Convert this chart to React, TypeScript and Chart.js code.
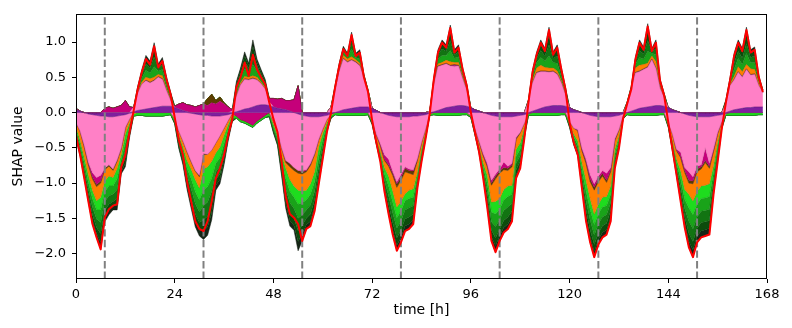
import React, { useEffect, useRef } from "react";
import { Chart, registerables } from "chart.js";

Chart.register(...registerables);

// x positions (hour index) and axis ticks
const hours: number[] = Array.from({ length: 168 }, (_, i) => i);
const xTicks = [0, 24, 48, 72, 96, 120, 144, 168];
const yTicks = [-2.0, -1.5, -1.0, -0.5, 0.0, 0.5, 1.0];
const dayMarkers = [7, 31, 55, 79, 103, 127, 151];

// SHAP contribution of each feature per hour
const purple = [
  0.04, 0.02, 0.00, -0.02, -0.03, -0.04, -0.05, -0.05, -0.06, -0.06, -0.05, -0.04, -0.03, -0.01, 0.01, 0.03, 0.04, 0.05, 0.06, 0.07, 0.08, 0.09, 0.09, 0.09,
  0.07, 0.05, 0.03, 0.01, -0.01, -0.02, -0.03, -0.04, -0.04, -0.05, -0.05, -0.05, -0.04, -0.03, -0.01, 0.01, 0.03, 0.05, 0.06, 0.08, 0.10, 0.11, 0.11, 0.10,
  0.08, 0.06, 0.05, 0.04, 0.02, 0.00, -0.02, -0.04, -0.05, -0.06, -0.06, -0.06, -0.05, -0.04, -0.02, 0.00, 0.02, 0.04, 0.05, 0.06, 0.07, 0.08, 0.08, 0.08,
  0.06, 0.03, 0.00, -0.02, -0.04, -0.05, -0.06, -0.06, -0.06, -0.06, -0.05, -0.05, -0.04, -0.03, -0.01, 0.01, 0.03, 0.05, 0.07, 0.08, 0.09, 0.10, 0.10, 0.09,
  0.07, 0.04, 0.02, 0.00, -0.02, -0.04, -0.05, -0.06, -0.06, -0.06, -0.06, -0.05, -0.04, -0.03, -0.01, 0.02, 0.04, 0.06, 0.08, 0.09, 0.10, 0.10, 0.10, 0.09,
  0.07, 0.04, 0.02, 0.00, -0.02, -0.04, -0.05, -0.06, -0.06, -0.06, -0.06, -0.05, -0.04, -0.02, 0.00, 0.02, 0.04, 0.06, 0.07, 0.08, 0.09, 0.10, 0.10, 0.09,
  0.07, 0.04, 0.02, 0.00, -0.02, -0.04, -0.05, -0.06, -0.06, -0.06, -0.06, -0.05, -0.04, -0.03, -0.01, 0.02, 0.04, 0.05, 0.06, 0.07, 0.07, 0.08, 0.08, 0.08,
];
const pink = [
  -0.14, -0.26, -0.46, -0.68, -0.82, -0.88, -0.84, -0.74, -0.68, -0.74, -0.62, -0.46, -0.18, -0.08, 0.06, 0.24, 0.36, 0.40, 0.36, 0.38, 0.42, 0.38, 0.22, 0.08,
  -0.08, -0.26, -0.40, -0.55, -0.68, -0.80, -0.86, -0.54, -0.55, -0.48, -0.38, -0.28, -0.18, -0.08, 0.02, 0.22, 0.36, 0.42, 0.40, 0.40, 0.36, 0.30, 0.22, 0.05,
  -0.12, -0.26, -0.50, -0.68, -0.72, -0.78, -0.80, -0.78, -0.76, -0.66, -0.52, -0.32, -0.18, -0.06, 0.08, 0.30, 0.56, 0.72, 0.66, 0.68, 0.64, 0.58, 0.40, 0.22,
  -0.10, -0.30, -0.44, -0.58, -0.62, -0.78, -0.92, -0.82, -0.71, -0.74, -0.76, -0.60, -0.38, -0.20, 0.02, 0.38, 0.62, 0.62, 0.62, 0.58, 0.56, 0.56, 0.38, 0.22,
  -0.04, -0.22, -0.40, -0.58, -0.70, -0.92, -0.82, -0.74, -0.64, -0.70, -0.66, -0.30, -0.24, -0.12, 0.16, 0.40, 0.52, 0.52, 0.50, 0.48, 0.48, 0.44, 0.32, 0.16,
  -0.12, -0.22, -0.24, -0.50, -0.64, -0.84, -0.96, -0.84, -0.76, -0.80, -0.72, -0.32, -0.20, -0.02, 0.12, 0.30, 0.52, 0.52, 0.54, 0.56, 0.66, 0.52, 0.24, 0.12,
  -0.14, -0.30, -0.52, -0.56, -0.76, -0.80, -0.86, -0.70, -0.68, -0.44, -0.66, -0.46, -0.24, -0.10, 0.12, 0.36, 0.42, 0.52, 0.44, 0.54, 0.46, 0.46, 0.30, 0.20,
];
const magenta = [
  0.02, 0.00, -0.01, -0.02, -0.06, -0.10, -0.08, 0.06, 0.08, 0.06, 0.08, 0.10, 0.17, 0.08, 0, 0, 0, 0, 0, 0, 0, 0, 0, 0,
  0.02, 0.07, 0.11, 0.10, 0.10, 0.08, 0.10, 0.12, 0.10, 0.14, 0.12, 0.16, 0.12, 0.08, 0.02, -0.05, -0.10, -0.12, -0.15, -0.18, -0.12, -0.08, -0.04, 0.05,
  0.12, 0.13, 0.15, 0.13, 0.15, 0.18, 0.38, -0.02, -0.01, -0.01, 0, 0, 0, 0, 0, 0, 0, 0, 0, 0, 0, 0, 0, 0,
  0, -0.01, -0.02, -0.06, -0.08, -0.03, -0.03, -0.04, -0.02, -0.02, -0.02, -0.01, 0, 0, 0, 0, 0, 0, 0, 0, 0.02, 0, 0, 0,
  0, 0, -0.01, -0.02, -0.03, -0.04, -0.03, -0.03, -0.08, -0.03, -0.02, -0.01, 0, 0, 0, 0, 0, 0, 0, 0, 0, 0, 0, 0,
  0, 0, -0.01, -0.02, -0.03, -0.06, -0.05, -0.04, -0.04, -0.10, -0.03, -0.01, 0, 0, 0, 0, 0, 0, 0, 0, 0, 0, 0, 0,
  0, 0, -0.01, -0.06, -0.04, -0.12, -0.06, -0.04, -0.03, -0.18, -0.04, -0.02, -0.01, 0, 0, 0, 0, 0, 0, 0, 0, 0, 0, 0,
];
const brown = [
  0, -0.01, -0.02, -0.02, -0.03, -0.03, -0.03, -0.02, -0.02, -0.02, -0.02, -0.01, -0.01, 0, 0, 0, 0, 0.01, 0.01, 0.01, 0.01, 0.01, 0, 0,
  0, 0, 0, -0.01, -0.01, -0.01, -0.02, -0.02, 0.10, 0.12, 0.05, 0.06, 0.02, 0, 0, 0, 0, 0.01, 0.01, 0.01, 0.01, 0, 0, 0,
  0, 0, -0.01, -0.03, -0.05, -0.04, -0.04, -0.03, -0.02, -0.02, -0.02, -0.01, 0, 0, 0, 0, 0, 0.01, 0.01, 0.01, 0.01, 0.01, 0, 0,
  0, 0, -0.01, -0.02, -0.02, -0.03, -0.05, -0.04, -0.05, -0.04, -0.05, -0.02, -0.01, 0, 0, 0, 0.01, 0.01, 0.01, 0.01, 0.01, 0.01, 0, 0,
  0, 0, 0, -0.01, -0.02, -0.03, -0.04, -0.03, -0.03, -0.03, -0.03, -0.02, -0.01, 0, 0, 0, 0.01, 0.01, 0.01, 0.01, 0.01, 0.01, 0, 0,
  0, 0, -0.01, -0.02, -0.03, -0.04, -0.04, -0.04, -0.04, -0.03, -0.03, -0.02, -0.01, 0, 0, 0, 0.01, 0.01, 0.01, 0.01, 0.01, 0.01, 0, 0,
  0, 0, -0.01, -0.02, -0.03, -0.04, -0.04, -0.04, -0.03, -0.03, -0.03, -0.02, -0.01, 0, 0, 0, 0.01, 0.01, 0.01, 0.01, 0.01, 0.01, 0, 0,
];
const orange = [
  -0.06, -0.12, -0.14, -0.14, -0.16, -0.20, -0.20, -0.16, -0.14, -0.10, -0.10, -0.08, -0.08, -0.06, -0.02, 0.02, 0.03, 0.04, 0.05, 0.04, 0.03, 0.04, 0.03, 0.02,
  -0.02, -0.06, -0.08, -0.12, -0.10, -0.12, -0.16, -0.20, -0.18, -0.16, -0.14, -0.16, -0.10, -0.06, -0.03, 0.02, 0.03, 0.03, 0.03, 0.03, 0.03, 0.02, 0.02, 0.00,
  -0.04, -0.06, -0.08, -0.08, -0.18, -0.22, -0.24, -0.24, -0.26, -0.26, -0.24, -0.10, -0.06, -0.04, -0.02, 0.02, 0.03, 0.04, 0.04, 0.04, 0.03, 0.03, 0.02, 0.01,
  -0.02, -0.06, -0.08, -0.10, -0.14, -0.22, -0.28, -0.30, -0.31, -0.24, -0.20, -0.16, -0.08, -0.04, -0.02, 0.02, 0.03, 0.03, 0.04, 0.05, 0.03, 0.04, 0.03, 0.02,
  -0.01, -0.04, -0.06, -0.10, -0.12, -0.24, -0.32, -0.36, -0.28, -0.22, -0.26, -0.14, -0.14, -0.06, 0.00, 0.03, 0.06, 0.08, 0.05, 0.05, 0.04, 0.04, 0.03, 0.02,
  -0.03, -0.08, -0.14, -0.16, -0.24, -0.24, -0.34, -0.32, -0.30, -0.20, -0.20, -0.12, -0.08, -0.02, 0.01, 0.02, 0.06, 0.08, 0.06, 0.05, 0.04, 0.09, 0.03, 0.02,
  -0.03, -0.08, -0.12, -0.18, -0.24, -0.16, -0.24, -0.28, -0.24, -0.32, -0.22, -0.20, -0.12, -0.04, 0.01, 0.02, 0.04, 0.07, 0.07, 0.06, 0.08, 0.06, 0.04, 0.02,
];
const greenBright = [
  -0.05, -0.06, -0.08, -0.10, -0.12, -0.13, -0.18, -0.15, -0.14, -0.12, -0.15, -0.07, -0.12, -0.05, -0.03, -0.04, -0.04, -0.05, -0.05, -0.05, -0.05, -0.05, -0.04, -0.03,
  -0.02, -0.05, -0.07, -0.11, -0.14, -0.17, -0.17, -0.30, -0.28, -0.24, -0.15, -0.15, -0.12, -0.06, -0.03, -0.03, -0.03, -0.03, -0.03, -0.03, -0.03, -0.03, -0.03, -0.03,
  -0.04, -0.04, -0.08, -0.15, -0.17, -0.16, -0.20, -0.17, -0.14, -0.15, -0.14, -0.14, -0.09, -0.04, -0.02, -0.03, -0.04, -0.04, -0.04, -0.04, -0.04, -0.04, -0.04, -0.03,
  -0.02, -0.02, -0.04, -0.09, -0.14, -0.16, -0.15, -0.14, -0.10, -0.12, -0.12, -0.06, -0.05, -0.03, -0.01, -0.03, -0.04, -0.04, -0.04, -0.04, -0.04, -0.04, -0.03, -0.03,
  -0.01, -0.02, -0.03, -0.06, -0.12, -0.14, -0.18, -0.15, -0.15, -0.15, -0.13, -0.10, -0.09, -0.04, -0.03, -0.04, -0.04, -0.04, -0.04, -0.04, -0.04, -0.04, -0.03, -0.03,
  -0.02, -0.04, -0.06, -0.10, -0.15, -0.15, -0.15, -0.14, -0.14, -0.13, -0.12, -0.07, -0.05, -0.01, -0.03, -0.04, -0.04, -0.04, -0.04, -0.04, -0.04, -0.04, -0.03, -0.03,
  -0.01, -0.05, -0.06, -0.11, -0.14, -0.19, -0.20, -0.18, -0.18, -0.18, -0.18, -0.10, -0.07, -0.02, -0.03, -0.04, -0.04, -0.04, -0.04, -0.04, -0.04, -0.04, -0.03, -0.03,
];
const greenMid = [
  -0.05, -0.06, -0.08, -0.10, -0.12, -0.13, -0.18, -0.14, -0.14, -0.12, -0.15, -0.07, -0.12, -0.05, 0, 0.03, 0.06, 0.10, 0.08, 0.15, 0.05, 0.09, 0.06, 0.04,
  -0.02, -0.05, -0.07, -0.10, -0.14, -0.17, -0.17, -0.22, -0.22, -0.19, -0.12, -0.12, -0.10, -0.06, -0.02, 0.06, 0.07, 0.11, 0.07, 0.16, 0.09, 0.06, 0.04, -0.02,
  -0.03, -0.04, -0.08, -0.14, -0.16, -0.16, -0.20, -0.17, -0.14, -0.15, -0.14, -0.13, -0.09, -0.04, -0.01, 0.03, 0.04, 0.05, 0.03, 0.11, 0.03, 0.06, 0.02, 0.01,
  -0.01, -0.02, -0.04, -0.09, -0.14, -0.15, -0.15, -0.14, -0.13, -0.13, -0.12, -0.06, -0.05, -0.03, 0, 0.04, 0.07, 0.10, 0.07, 0.16, 0.06, 0.08, 0.05, 0.03,
  -0.01, -0.02, -0.03, -0.06, -0.12, -0.14, -0.18, -0.15, -0.15, -0.15, -0.13, -0.10, -0.09, -0.04, 0.01, 0.06, 0.08, 0.11, 0.09, 0.17, 0.08, 0.11, 0.06, 0.04,
  -0.02, -0.04, -0.06, -0.09, -0.14, -0.15, -0.15, -0.14, -0.14, -0.13, -0.12, -0.07, -0.05, -0.01, 0.01, 0.01, 0.06, 0.11, 0.08, 0.17, 0.04, 0.10, 0.04, 0.02,
  -0.01, -0.04, -0.06, -0.11, -0.13, -0.19, -0.20, -0.18, -0.18, -0.18, -0.18, -0.10, -0.07, -0.02, 0.02, 0.04, 0.10, 0.12, 0.10, 0.16, 0.09, 0.10, 0.04, 0.01,
];
const greenDark = [
  -0.04, -0.05, -0.07, -0.08, -0.11, -0.12, -0.16, -0.13, -0.12, -0.10, -0.13, -0.06, -0.10, -0.05, 0, 0.02, 0.05, 0.09, 0.07, 0.14, 0.04, 0.07, 0.05, 0.03,
  -0.01, -0.04, -0.06, -0.09, -0.13, -0.15, -0.15, -0.20, -0.20, -0.17, -0.11, -0.11, -0.09, -0.05, -0.02, 0.05, 0.06, 0.10, 0.06, 0.15, 0.08, 0.05, 0.03, -0.01,
  -0.03, -0.03, -0.07, -0.13, -0.15, -0.14, -0.18, -0.15, -0.12, -0.13, -0.12, -0.12, -0.08, -0.03, -0.01, 0.02, 0.02, 0.04, 0.02, 0.10, 0.03, 0.05, 0.01, 0,
  -0.01, -0.02, -0.03, -0.08, -0.12, -0.14, -0.14, -0.13, -0.13, -0.13, -0.12, -0.05, -0.04, -0.02, 0, 0.02, 0.06, 0.09, 0.06, 0.14, 0.05, 0.07, 0.04, 0.02,
  0, -0.01, -0.02, -0.05, -0.10, -0.12, -0.16, -0.13, -0.14, -0.14, -0.11, -0.09, -0.08, -0.04, 0.01, 0.04, 0.06, 0.10, 0.07, 0.16, 0.06, 0.10, 0.05, 0.02,
  -0.01, -0.04, -0.05, -0.08, -0.13, -0.14, -0.13, -0.13, -0.13, -0.12, -0.11, -0.06, -0.04, -0.01, 0.01, 0.01, 0.04, 0.10, 0.07, 0.15, 0.03, 0.08, 0.03, 0.01,
  -0.01, -0.04, -0.06, -0.10, -0.12, -0.17, -0.18, -0.16, -0.16, -0.16, -0.16, -0.09, -0.06, -0.01, 0.01, 0.02, 0.09, 0.10, 0.09, 0.14, 0.07, 0.09, 0.03, 0.01,
];
const greenDeep = [
  -0.02, -0.03, -0.04, -0.06, -0.08, -0.08, -0.12, -0.09, -0.09, -0.07, -0.09, -0.05, -0.08, -0.03, 0, 0.02, 0.04, 0.07, 0.06, 0.11, 0.03, 0.06, 0.03, 0.02,
  -0.01, -0.03, -0.03, -0.06, -0.09, -0.10, -0.11, -0.16, -0.15, -0.13, -0.08, -0.08, -0.06, -0.03, -0.01, 0.05, 0.05, 0.08, 0.04, 0.11, 0.05, 0.04, 0.03, 0,
  -0.02, -0.02, -0.05, -0.09, -0.10, -0.10, -0.15, -0.12, -0.09, -0.10, -0.09, -0.08, -0.06, -0.02, 0, 0.01, 0.02, 0.02, 0.02, 0.08, 0.02, 0.05, 0.01, 0,
  -0.01, -0.01, -0.02, -0.05, -0.08, -0.10, -0.10, -0.10, -0.10, -0.10, -0.08, -0.03, -0.03, -0.01, 0, 0.02, 0.04, 0.07, 0.05, 0.12, 0.04, 0.06, 0.02, 0.02,
  0, -0.01, -0.02, -0.03, -0.07, -0.09, -0.11, -0.10, -0.10, -0.10, -0.08, -0.07, -0.06, -0.02, 0, 0.03, 0.05, 0.08, 0.06, 0.14, 0.05, 0.09, 0.05, 0.02,
  -0.01, -0.02, -0.03, -0.06, -0.09, -0.10, -0.10, -0.09, -0.09, -0.09, -0.09, -0.04, -0.02, 0, 0, 0.01, 0.03, 0.08, 0.05, 0.13, 0.02, 0.07, 0.02, 0.01,
  -0.01, -0.02, -0.04, -0.07, -0.09, -0.11, -0.12, -0.11, -0.12, -0.11, -0.11, -0.07, -0.05, -0.01, 0.01, 0.02, 0.08, 0.09, 0.08, 0.13, 0.06, 0.07, 0.02, 0,
];
const greenBlack = [
  -0.02, -0.03, -0.03, -0.04, -0.05, -0.06, -0.10, -0.07, -0.06, -0.05, -0.07, -0.03, -0.05, -0.03, 0, 0.01, 0.03, 0.05, 0.04, 0.09, 0.03, 0.04, 0.03, 0.01,
  0, -0.02, -0.03, -0.05, -0.06, -0.08, -0.08, -0.12, -0.12, -0.10, -0.07, -0.06, -0.05, -0.03, -0.01, 0.03, 0.03, 0.06, 0.03, 0.09, 0.04, 0.03, 0.02, 0,
  -0.01, -0.02, -0.03, -0.06, -0.08, -0.07, -0.13, -0.10, -0.06, -0.07, -0.07, -0.06, -0.04, -0.01, 0, 0.01, 0.01, 0.02, 0.01, 0.06, 0.01, 0.03, 0, 0,
  0, -0.01, -0.02, -0.03, -0.06, -0.07, -0.08, -0.07, -0.07, -0.07, -0.06, -0.03, -0.02, -0.01, 0, 0.01, 0.03, 0.06, 0.04, 0.10, 0.03, 0.04, 0.02, 0.01,
  0, 0, -0.01, -0.02, -0.05, -0.06, -0.09, -0.07, -0.07, -0.07, -0.06, -0.05, -0.04, -0.02, 0, 0.03, 0.04, 0.07, 0.05, 0.11, 0.04, 0.07, 0.03, 0.01,
  0, -0.02, -0.02, -0.04, -0.07, -0.08, -0.08, -0.07, -0.07, -0.07, -0.06, -0.03, -0.02, 0, 0, 0, 0.03, 0.07, 0.05, 0.11, 0.02, 0.06, 0.02, 0,
  0, -0.02, -0.02, -0.05, -0.06, -0.09, -0.10, -0.09, -0.09, -0.09, -0.09, -0.05, -0.03, 0, 0.01, 0.01, 0.06, 0.07, 0.06, 0.10, 0.05, 0.06, 0.02, 0,
];

const layerValues = [purple, pink, magenta, brown, orange, greenBright, greenMid, greenDark, greenDeep, greenBlack];
const layerColors = ["#7f1f9f", "#ff80c6", "#c5007a", "#5e3d00", "#ff7f00", "#1edc1e", "#19a319", "#127412", "#0c4c0c", "#162616"];
const layerEdges = ["#5c1475", "#d86aa6", "#8f0058", "#3e2800", "#c86200", "#14a014", "#107010", "#0b500b", "#073307", "#0a140a"];
const totalColor = "#ff0000";

const FONT = "'DejaVu Sans', 'Liberation Sans', sans-serif";

export default function App() {
  const ref = useRef<HTMLCanvasElement | null>(null);

  useEffect(() => {
    document.body.style.margin = "0";
    const canvas = ref.current;
    if (!canvas) return;

    const n = hours.length;
    const posCum: number[][] = [];
    const negCum: number[][] = [];
    layerValues.forEach((vals, k) => {
      const p: number[] = [];
      const q: number[] = [];
      for (let h = 0; h < n; h++) {
        const v = vals[h] ?? 0;
        const prevP = k > 0 ? posCum[k - 1][h] : 0;
        const prevN = k > 0 ? negCum[k - 1][h] : 0;
        p.push(prevP + Math.max(v, 0));
        q.push(prevN + Math.min(v, 0));
      }
      posCum.push(p);
      negCum.push(q);
    });
    const total = hours.map((h) =>
      layerValues.reduce((s, vals) => s + (vals[h] ?? 0), 0)
    );

    const areaSet = (cum: number[][], k: number) => ({
      type: "line" as const,
      data: hours.map((h, i) => ({ x: h, y: cum[k][i] })),
      backgroundColor: layerColors[k],
      borderColor: layerEdges[k],
      borderWidth: 0.5,
      pointRadius: 0,
      tension: 0,
      fill: k === 0 ? "origin" : "-1",
      order: 1,
    });

    const datasets: any[] = [
      {
        type: "line",
        data: hours.map((h, i) => ({ x: h, y: total[i] })),
        borderColor: totalColor,
        borderWidth: 2,
        borderJoinStyle: "round",
        pointRadius: 0,
        tension: 0,
        fill: false,
        order: 0,
      },
    ];
    layerValues.forEach((_, k) => datasets.push(areaSet(posCum, k)));
    layerValues.forEach((_, k) => datasets.push(areaSet(negCum, k)));

    const overlay = {
      id: "overlay",
      beforeDatasetDraw(chart: any, args: any) {
        if (args.index !== 0) return;
        const { ctx, chartArea, scales } = chart;
        ctx.save();
        ctx.beginPath();
        ctx.rect(chartArea.left, chartArea.top, chartArea.right - chartArea.left, chartArea.bottom - chartArea.top);
        ctx.clip();
        ctx.strokeStyle = "#808080";
        ctx.lineWidth = 2;
        ctx.setLineDash([7.4, 3.2]);
        for (const h of dayMarkers) {
          const x = scales.x.getPixelForValue(h);
          ctx.beginPath();
          ctx.moveTo(x, chartArea.bottom);
          ctx.lineTo(x, chartArea.top);
          ctx.stroke();
        }
        ctx.restore();
      },
      afterDraw(chart: any) {
        const { ctx, chartArea } = chart;
        ctx.save();
        ctx.strokeStyle = "#000";
        ctx.lineWidth = 1;
        const l = Math.round(chartArea.left) + 0.5;
        const t = Math.round(chartArea.top) + 0.5;
        const r = Math.round(chartArea.right) - 0.5;
        const b = Math.round(chartArea.bottom) - 0.5;
        ctx.strokeRect(l, t, r - l, b - t);
        ctx.restore();
      },
    };

    const chart = new Chart(canvas, {
      type: "line",
      data: { datasets },
      plugins: [overlay],
      options: {
        animation: false,
        responsive: false,
        devicePixelRatio: 1,
        layout: { padding: { left: 0, right: 25, top: 10, bottom: 0 } },
        plugins: {
          legend: { display: false },
          tooltip: { enabled: false },
          filler: { propagate: false },
        },
        scales: {
          x: {
            type: "linear",
            min: 0,
            max: 168,
            afterBuildTicks: (s: any) => {
              s.ticks = xTicks.map((v) => ({ value: v }));
            },
            afterFit: (s: any) => {
              s.height = 49;
            },
            grid: { drawOnChartArea: false, drawTicks: true, tickLength: 4, color: "#000", tickWidth: 1 },
            border: { display: false },
            ticks: {
              color: "#000",
              font: { family: FONT, size: 13 },
              padding: 4,
              maxRotation: 0,
              autoSkip: false,
              callback: (v: any) => String(v),
            },
            title: {
              display: true,
              text: "time [h]",
              color: "#000",
              font: { family: FONT, size: 14 },
              padding: { top: 0, bottom: 9 },
            },
          },
          y: {
            type: "linear",
            min: -2.36,
            max: 1.4,
            afterBuildTicks: (s: any) => {
              s.ticks = yTicks.map((v) => ({ value: v }));
            },
            afterFit: (s: any) => {
              s.width = 76;
            },
            grid: { drawOnChartArea: false, drawTicks: true, tickLength: 4, color: "#000", tickWidth: 1 },
            border: { display: false },
            ticks: {
              color: "#000",
              font: { family: FONT, size: 13 },
              padding: 6,
              autoSkip: false,
              callback: (v: any) => {
                const s = Number(v).toFixed(1);
                return s.startsWith("-") ? "\u2212" + s.slice(1) : s;
              },
            },
            title: {
              display: true,
              text: "SHAP value",
              color: "#000",
              font: { family: FONT, size: 14 },
              padding: { top: 10, bottom: 0 },
            },
          },
        },
      } as any,
    });

    return () => chart.destroy();
  }, []);

  return (
    <div style={{ width: 792, height: 328, background: "#fff" }}>
      <canvas ref={ref} width={792} height={328} style={{ display: "block", width: 792, height: 328 }} />
    </div>
  );
}
